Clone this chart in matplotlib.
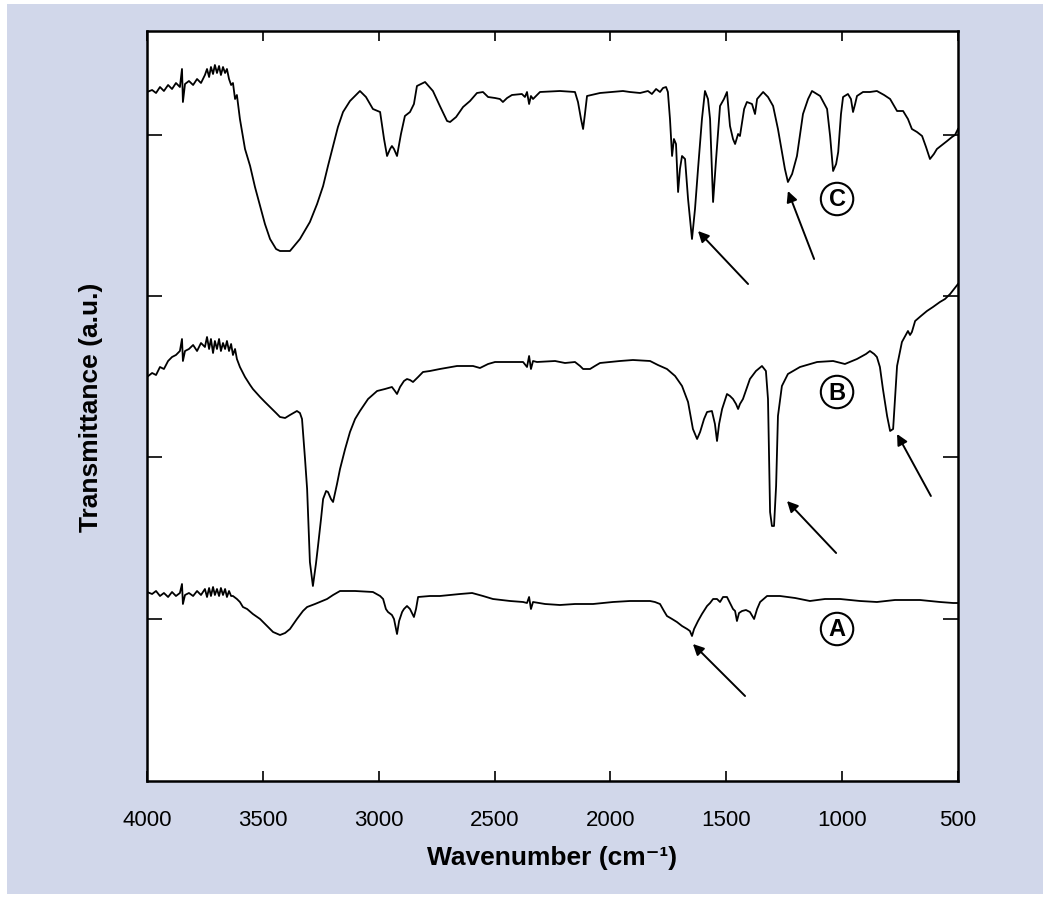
import matplotlib
matplotlib.use('Agg')
import matplotlib.pyplot as plt
from matplotlib.patches import Rectangle

# FTIR spectra: wavenumber (cm-1) and stacked transmittance (a.u.)
C_wn = [4000, 3978, 3961, 3944, 3927, 3909, 3892, 3875, 3858, 3849,
        3845, 3836, 3819, 3801, 3784, 3767, 3750, 3741, 3732, 3724,
        3715, 3707, 3698, 3689, 3681, 3672, 3663, 3655, 3646, 3637,
        3629, 3620, 3612, 3599, 3577, 3555, 3534, 3512, 3491, 3469,
        3443, 3426, 3383, 3340, 3297, 3266, 3240, 3219, 3197, 3176,
        3154, 3124, 3081, 3055, 3025, 2994, 2977, 2964, 2951, 2943,
        2934, 2921, 2904, 2887, 2865, 2848, 2835, 2800, 2766, 2736,
        2705, 2692, 2666, 2636, 2606, 2576, 2550, 2528, 2498, 2477,
        2464, 2446, 2425, 2382, 2369, 2360, 2351, 2343, 2334, 2304,
        2218, 2153, 2140, 2127, 2118, 2110, 2101, 2045, 1946, 1916,
        1872, 1838, 1821, 1803, 1786, 1773, 1760, 1752, 1743, 1734,
        1726, 1717, 1708, 1700, 1691, 1678, 1665, 1648, 1635, 1622,
        1605, 1592, 1579, 1570, 1557, 1544, 1527, 1510, 1497, 1484,
        1471, 1462, 1449, 1441, 1423, 1411, 1389, 1376, 1367, 1341,
        1320, 1298, 1277, 1260, 1247, 1234, 1216, 1195, 1169, 1147,
        1130, 1095, 1065, 1052, 1039, 1026, 1017, 1005, 996, 975,
        962, 953, 944, 936, 910, 880, 850, 819, 793, 763,
        737, 716, 699, 677, 655, 638, 621, 604, 591, 569,
        547, 526, 513, 500]
C_T = [6.89, 6.91, 6.88, 6.94, 6.90, 6.96, 6.92, 6.98, 6.94, 7.12,
       6.79, 6.97, 7.00, 6.96, 7.02, 6.98, 7.06, 7.12, 7.04, 7.14,
       7.07, 7.16, 7.08, 7.15, 7.06, 7.14, 7.08, 7.12, 7.02, 6.96,
       6.98, 6.82, 6.86, 6.62, 6.32, 6.15, 5.94, 5.75, 5.57, 5.42,
       5.32, 5.30, 5.30, 5.42, 5.59, 5.77, 5.95, 6.15, 6.35, 6.54,
       6.69, 6.80, 6.90, 6.84, 6.72, 6.69, 6.42, 6.25, 6.32, 6.35,
       6.32, 6.25, 6.47, 6.65, 6.69, 6.77, 6.95, 6.99, 6.90, 6.75,
       6.60, 6.59, 6.64, 6.74, 6.80, 6.88, 6.89, 6.84, 6.83, 6.82,
       6.79, 6.83, 6.86, 6.87, 6.84, 6.89, 6.77, 6.85, 6.82, 6.89,
       6.90, 6.89, 6.79, 6.62, 6.52, 6.67, 6.85, 6.88, 6.90, 6.89,
       6.88, 6.90, 6.87, 6.92, 6.89, 6.93, 6.94, 6.89, 6.62, 6.25,
       6.42, 6.37, 5.89, 6.12, 6.25, 6.22, 5.82, 5.42, 5.72, 6.12,
       6.62, 6.90, 6.82, 6.62, 5.79, 6.22, 6.75, 6.82, 6.89, 6.55,
       6.42, 6.37, 6.47, 6.45, 6.72, 6.79, 6.77, 6.67, 6.82, 6.89,
       6.84, 6.75, 6.52, 6.29, 6.12, 5.99, 6.07, 6.25, 6.67, 6.82,
       6.90, 6.85, 6.72, 6.45, 6.10, 6.17, 6.29, 6.67, 6.84, 6.87,
       6.82, 6.69, 6.77, 6.85, 6.89, 6.89, 6.90, 6.86, 6.82, 6.70,
       6.70, 6.62, 6.52, 6.49, 6.45, 6.34, 6.22, 6.27, 6.32, 6.36,
       6.40, 6.44, 6.46, 6.52]

B_wn = [4000, 3978, 3961, 3944, 3927, 3909, 3892, 3875, 3858, 3849,
        3845, 3836, 3819, 3801, 3784, 3767, 3750, 3741, 3732, 3724,
        3715, 3707, 3698, 3689, 3681, 3672, 3663, 3655, 3646, 3637,
        3629, 3620, 3612, 3599, 3577, 3555, 3543, 3512, 3491, 3469,
        3443, 3426, 3404, 3383, 3353, 3340, 3331, 3318, 3309, 3297,
        3284, 3271, 3262, 3249, 3240, 3227, 3219, 3206, 3197, 3180,
        3167, 3145, 3124, 3102, 3081, 3046, 3007, 2973, 2943, 2930,
        2921, 2908, 2891, 2878, 2865, 2852, 2830, 2809, 2779, 2736,
        2662, 2593, 2563, 2528, 2498, 2377, 2360, 2351, 2343, 2334,
        2317, 2239, 2196, 2153, 2131, 2118, 2088, 2067, 2045, 1959,
        1903, 1829, 1795, 1756, 1721, 1691, 1665, 1644, 1626, 1613,
        1596, 1583, 1562, 1549, 1540, 1531, 1518, 1497, 1484, 1471,
        1458, 1449, 1441, 1428, 1398, 1372, 1346, 1329, 1320, 1311,
        1303, 1294, 1285, 1277, 1260, 1234, 1182, 1108, 1039, 988,
        936, 897, 880, 862, 850, 837, 824, 806, 793, 780,
        772, 763, 742, 716, 707, 699, 685, 660, 634, 608,
        578, 556, 534, 517, 500]
B_T = [4.04, 4.08, 4.06, 4.14, 4.12, 4.20, 4.24, 4.26, 4.30, 4.42,
       4.20, 4.30, 4.32, 4.36, 4.30, 4.38, 4.34, 4.44, 4.32, 4.42,
       4.28, 4.40, 4.32, 4.42, 4.30, 4.38, 4.32, 4.40, 4.30, 4.37,
       4.26, 4.32, 4.22, 4.14, 4.04, 3.96, 3.92, 3.84, 3.79, 3.74,
       3.68, 3.64, 3.63, 3.66, 3.70, 3.68, 3.62, 3.22, 2.92, 2.19,
       1.95, 2.17, 2.35, 2.62, 2.82, 2.90, 2.89, 2.82, 2.79, 2.97,
       3.12, 3.32, 3.49, 3.62, 3.70, 3.82, 3.90, 3.92, 3.94, 3.90,
       3.87, 3.94, 4.00, 4.02, 4.01, 3.99, 4.04, 4.09, 4.10, 4.12,
       4.15, 4.15, 4.13, 4.17, 4.19, 4.19, 4.14, 4.25, 4.12, 4.20,
       4.19, 4.20, 4.18, 4.19, 4.15, 4.12, 4.12, 4.15, 4.18, 4.20,
       4.21, 4.20, 4.16, 4.12, 4.05, 3.95, 3.79, 3.52, 3.42, 3.49,
       3.62, 3.69, 3.70, 3.57, 3.40, 3.57, 3.72, 3.87, 3.85, 3.82,
       3.77, 3.72, 3.77, 3.82, 4.02, 4.10, 4.15, 4.10, 3.82, 2.69,
       2.55, 2.55, 2.95, 3.65, 3.95, 4.07, 4.14, 4.19, 4.20, 4.17,
       4.22, 4.27, 4.30, 4.27, 4.24, 4.14, 3.92, 3.65, 3.50, 3.52,
       3.82, 4.15, 4.39, 4.50, 4.46, 4.49, 4.60, 4.65, 4.70, 4.74,
       4.79, 4.82, 4.87, 4.92, 4.97]

A_wn = [4000, 3978, 3961, 3944, 3927, 3909, 3892, 3875, 3858, 3849,
        3845, 3836, 3819, 3801, 3784, 3767, 3750, 3741, 3732, 3724,
        3715, 3707, 3698, 3689, 3681, 3672, 3663, 3655, 3646, 3637,
        3629, 3612, 3599, 3586, 3568, 3543, 3512, 3482, 3456, 3426,
        3404, 3383, 3353, 3327, 3309, 3275, 3223, 3197, 3167, 3102,
        3025, 2994, 2981, 2969, 2960, 2943, 2934, 2921, 2912, 2899,
        2891, 2878, 2865, 2848, 2839, 2830, 2779, 2736, 2649, 2597,
        2550, 2507, 2433, 2377, 2360, 2351, 2343, 2334, 2282, 2218,
        2153, 2075, 1989, 1916, 1829, 1808, 1786, 1769, 1756, 1734,
        1713, 1691, 1669, 1657, 1648, 1639, 1622, 1605, 1583, 1570,
        1557, 1540, 1527, 1514, 1497, 1484, 1471, 1462, 1454, 1445,
        1432, 1415, 1398, 1380, 1367, 1354, 1324, 1268, 1203, 1139,
        1074, 1009, 923, 850, 772, 664, 578, 521, 500]
A_T = [1.89, 1.87, 1.90, 1.85, 1.88, 1.84, 1.89, 1.85, 1.88, 1.97,
       1.77, 1.86, 1.88, 1.85, 1.90, 1.86, 1.92, 1.84, 1.93, 1.85,
       1.94, 1.86, 1.92, 1.85, 1.93, 1.86, 1.92, 1.84, 1.90, 1.85,
       1.85, 1.82, 1.79, 1.74, 1.72, 1.67, 1.62, 1.55, 1.49, 1.46,
       1.48, 1.52, 1.62, 1.70, 1.74, 1.77, 1.82, 1.86, 1.90, 1.90,
       1.89, 1.85, 1.82, 1.72, 1.69, 1.66, 1.62, 1.47, 1.60, 1.69,
       1.72, 1.75, 1.72, 1.64, 1.72, 1.84, 1.85, 1.85, 1.87, 1.88,
       1.85, 1.82, 1.80, 1.79, 1.78, 1.84, 1.72, 1.79, 1.77, 1.76,
       1.77, 1.77, 1.79, 1.80, 1.80, 1.79, 1.77, 1.70, 1.65, 1.62,
       1.59, 1.55, 1.52, 1.50, 1.45, 1.52, 1.60, 1.67, 1.75, 1.78,
       1.82, 1.82, 1.79, 1.84, 1.84, 1.78, 1.72, 1.70, 1.60, 1.68,
       1.70, 1.71, 1.69, 1.62, 1.72, 1.79, 1.85, 1.85, 1.83, 1.80,
       1.82, 1.82, 1.80, 1.79, 1.81, 1.81, 1.79, 1.78, 1.78]

# circled sample labels and arrows marking the bands
labels = ['A', 'B', 'C']
label_wn = [1022, 1022, 1022]
label_T = [1.52, 3.89, 5.82]
arrow_head_wn = [1644, 1238, 763, 1622, 1234]
arrow_head_T = [1.37, 2.80, 3.47, 5.50, 5.90]
arrow_tail_wn = [1419, 1026, 617, 1406, 1121]
arrow_tail_T = [0.85, 2.28, 2.85, 4.97, 5.22]

FONT = ['Liberation Sans Narrow', 'Liberation Sans', 'DejaVu Sans']
plt.rcParams['font.family'] = FONT

W, H = 1050, 904
fig = plt.figure(figsize=(W / 100, H / 100), dpi=100, facecolor='white')
# lavender panel behind everything
fig.patches.append(Rectangle((7 / W, 9 / H), 1036 / W, 890 / H,
                             transform=fig.transFigure, facecolor='#d1d7ea',
                             edgecolor='none', zorder=-10))
ax = fig.add_axes([147 / W, 122 / H, 811 / W, 750 / H])
ax.set_zorder(1)
ax.set_facecolor('white')

for wn, t in [(C_wn, C_T), (B_wn, B_T), (A_wn, A_T)]:
    ax.plot(wn, t, color='black', lw=1.3)

ax.set_xlim(4000, 500)
ax.set_ylim(0, 7.5)
ax.set_xticks(range(4000, 499, -500))
ax.set_yticks([1.62, 3.24, 4.85, 6.46])
ax.set_yticklabels([])
ax.tick_params(axis='both', direction='in', top=True, right=True, width=1.2,
               colors='black')
ax.tick_params(axis='y', length=11)
ax.tick_params(axis='x', length=7, pad=20, labelsize=16)
for s in ax.spines.values():
    s.set_linewidth(1.8)

ax.set_xlabel('Wavenumber (cm⁻¹)', fontsize=19, fontweight='bold', labelpad=11)
ax.set_ylabel('Transmittance (a.u.)', fontsize=19, fontweight='bold', labelpad=28)

for lab, x, y in zip(labels, label_wn, label_T):
    ax.text(x, y, lab, fontsize=17, fontweight='bold', ha='center', va='center',
            bbox=dict(boxstyle='circle,pad=0.2', facecolor='white',
                      edgecolor='black', lw=1.5))

for hx, hy, tx, ty in zip(arrow_head_wn, arrow_head_T, arrow_tail_wn, arrow_tail_T):
    ax.annotate('', xy=(hx, hy), xytext=(tx, ty),
                arrowprops=dict(arrowstyle='-|>', color='black', lw=1.4,
                                mutation_scale=16, shrinkA=0, shrinkB=0))

fig.savefig('out.png', dpi=100)
